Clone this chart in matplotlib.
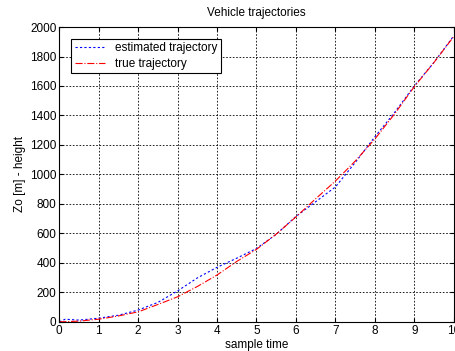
import matplotlib
matplotlib.use("Agg")
import matplotlib.pyplot as plt

plt.rcParams['font.family'] = ['Liberation Sans', 'DejaVu Sans']
plt.rcParams['font.size'] = 8.5

# true trajectory
t_true = [0, 0.5, 1, 1.5, 2, 2.5, 3, 3.5, 4, 4.5, 5, 5.5, 6, 6.5, 7, 7.5, 8, 8.5, 9, 9.5, 10]
z_true = [0, 5, 18, 40, 68, 118, 170, 240, 318, 410, 492, 595, 712, 835, 955, 1090, 1240, 1410, 1595, 1760, 1935]

# estimated trajectory
t_est = [0, 0.15, 0.5, 1, 1.5, 2, 2.5, 3, 3.5, 4, 4.5, 5, 5.5, 6, 6.5, 7, 7.5, 8, 8.5, 9, 9.5, 10]
z_est = [0, 18, 12, 25, 45, 80, 132, 210, 298, 370, 432, 498, 594, 715, 815, 915, 1080, 1255, 1420, 1600, 1760, 1940]

fig = plt.figure(figsize=(4.56, 3.51), dpi=100)
ax = fig.add_axes([0.13, 0.083, 0.865, 0.84])

ax.plot(t_est, z_est, color='blue', linestyle=(0, (2, 2)), linewidth=0.8, label='estimated trajectory')
ax.plot(t_true, z_true, color='red', linestyle='-.', linewidth=0.8, label='true trajectory')

ax.set_xlim(0, 10)
ax.set_ylim(0, 2000)
ax.set_xticks(range(0, 11))
ax.set_yticks(range(0, 2001, 200))
ax.grid(True, color='black', linestyle=(0, (2, 2)), linewidth=0.6)
ax.tick_params(direction='in', top=True, right=True, length=3, pad=2)
for s in ax.spines.values():
    s.set_linewidth(0.8)

ax.set_title('Vehicle trajectories', fontsize=8.5, pad=8)
ax.set_xlabel('sample time', labelpad=2)
ax.set_ylabel('Zo [m] - height', labelpad=3)

leg = ax.legend(loc='upper left', fancybox=False, framealpha=1, edgecolor='black',
                handlelength=2.6, borderpad=0.3, labelspacing=0.3, handletextpad=0.8,
                bbox_to_anchor=(0.015, 0.98))
leg.get_frame().set_linewidth(0.8)

fig.savefig('out.png', dpi=100)
